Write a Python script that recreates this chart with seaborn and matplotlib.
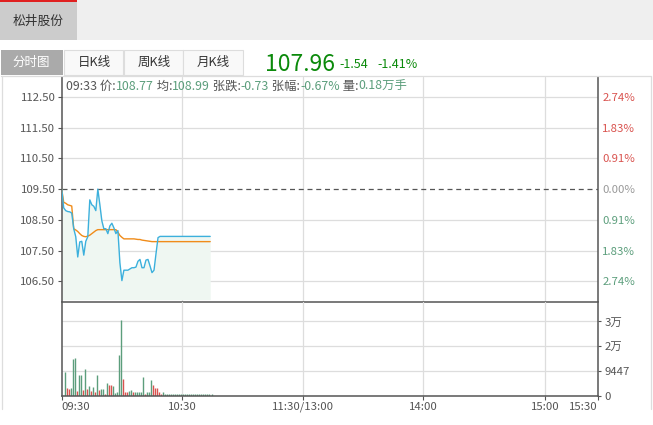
import matplotlib
matplotlib.use("Agg")
import matplotlib.pyplot as plt
import numpy as np
import pandas as pd
import seaborn as sns
from matplotlib.lines import Line2D
from matplotlib.patches import Rectangle

W, H = 653, 425

STOCK_NAME = "松井股份"
TABS = ["分时图", "日K线", "周K线", "月K线"]
PRE_CLOSE = 109.50
LAST_PRICE = "107.96"
CHANGE = "-1.54"
CHANGE_PCT = "-1.41%"

# one point per minute from 09:30
price = [109.50, 108.89, 108.80, 108.77, 108.76, 108.72, 108.21, 107.95, 107.29, 107.78,
         107.80, 107.35, 107.80, 107.95, 109.15, 108.99, 108.94, 108.80, 109.50, 109.00,
         108.47, 108.21, 108.21, 108.05, 108.30, 108.39, 108.24, 108.05, 108.15, 107.10,
         106.52, 106.86, 106.86, 106.86, 106.90, 106.94, 106.94, 106.96, 107.15, 107.21,
         106.94, 106.94, 107.19, 107.21, 107.00, 106.78, 106.86, 107.40, 107.92, 107.96,
         107.96, 107.96, 107.96, 107.96, 107.96, 107.96, 107.96, 107.96, 107.96, 107.96,
         107.96, 107.96, 107.96, 107.96, 107.96, 107.96, 107.96, 107.96, 107.96, 107.96,
         107.96, 107.96, 107.96, 107.96, 107.96]
avg_price = [109.50, 109.07, 109.04, 108.99, 108.97, 108.95, 108.21, 108.17, 108.12, 108.05,
             107.99, 107.96, 107.95, 107.97, 108.00, 108.05, 108.10, 108.15, 108.18, 108.18,
             108.18, 108.18, 108.18, 108.18, 108.18, 108.18, 108.18, 108.18, 108.10, 107.99,
             107.93, 107.88, 107.88, 107.88, 107.88, 107.88, 107.88, 107.87, 107.86, 107.86,
             107.84, 107.83, 107.82, 107.81, 107.80, 107.79, 107.79, 107.79, 107.79, 107.79,
             107.79, 107.79, 107.79, 107.79, 107.79, 107.79, 107.79, 107.79, 107.79, 107.79,
             107.79, 107.79, 107.79, 107.79, 107.79, 107.79, 107.79, 107.79, 107.79, 107.79,
             107.79, 107.79, 107.79, 107.79, 107.79]
volume = [8900, 2680, 2400, 2950, 14000, 14400, 1900, 7650, 8000, 2200,
          10200, 2300, 3700, 1900, 3300, 1500, 7650, 2200, 2300, 2300,
          400, 4600, 4200, 3950, 3800, 900, 1150, 15300, 28700, 6500,
          1500, 1400, 1650, 2200, 1500, 1250, 1400, 1500, 1500, 7250,
          500, 1500, 1250, 6100, 4200, 2950, 2680, 1150, 550, 1150,
          550, 550, 550, 550, 550, 550, 550, 550, 550, 550,
          550, 550, 550, 550, 550, 550, 550, 550, 550, 550,
          550, 550, 550, 550]
vol_up = [0, 1, 1, 0, 0, 0, 1, 0, 0, 1,
          0, 1, 0, 1, 0, 1, 0, 1, 0, 0,
          1, 0, 1, 1, 0, 0, 0, 0, 0, 1,
          1, 1, 0, 0, 1, 0, 0, 0, 0, 0,
          1, 0, 0, 0, 1, 1, 1, 1, 1, 0,
          0, 0, 0, 0, 0, 0, 0, 0, 0, 0,
          0, 0, 0, 0, 0, 0, 0, 0, 0, 0,
          0, 0, 0, 0]

PRICE_TICKS = [112.50, 111.50, 110.50, 109.50, 108.50, 107.50, 106.50]
PCT_LABELS = ["2.74%", "1.83%", "0.91%", "0.00%", "0.91%", "1.83%", "2.74%"]
VOL_TICKS = [0, 9447, 18894, 28341]
VOL_LABELS = ["0", "9447", "2万", "3万"]
TIME_TICKS = [0, 60, 120, 180, 241, 267]
TIME_LABELS = ["09:30", "10:30", "11:30/13:00", "14:00", "15:00", "15:30"]

HEADER = [("09:33 价:", "dark"), ("108.77", "val"), (" 均:", "dark"), ("108.99", "val"),
          (" 张跌:", "dark"), ("-0.73", "val"), (" 张幅:", "dark"), ("-0.67%", "val"),
          (" 量:", "dark"), ("0.18万手", "val")]

BLUE = "#3cb0dc"
ORANGE = "#f08c1a"
FILL = "#eff7f2"
UP = "#d9534f"
DOWN = "#5c9e7c"
DARK = "#555555"
GRID = "#dddddd"
BIG_GREEN = "#0b8a0b"


def fig_rect(x, y, w, h):
    return [x / W, 1 - (y + h) / H, w / W, h / H]


def main():
    sns.set_theme(style="white")
    plt.rcParams["font.family"] = ["Noto Sans CJK SC", "DejaVu Sans"]

    fig = plt.figure(figsize=(W / 100, H / 100), dpi=100)
    fig.patch.set_facecolor("white")

    def box(x, y, w, h, **kw):
        fig.add_artist(Rectangle((x / W, 1 - (y + h) / H), w / W, h / H,
                                 transform=fig.transFigure, **kw))

    # top bar with the stock tab
    box(0, 0, 653, 40, facecolor="#efefef", edgecolor="none")
    box(0, 0, 77, 40, facecolor="#cccccc", edgecolor="none")
    box(0, 0, 77, 1.6, facecolor="#e02020", edgecolor="none")
    fig.text(38 / W, 1 - 21 / H, STOCK_NAME, fontsize=9.2, color="#333333",
             ha="center", va="center")

    # period tabs
    tab_x = [1, 63.5, 123.5, 183]
    for i, (label, x0) in enumerate(zip(TABS, tab_x)):
        if i == 0:
            box(x0, 50, 62, 25, facecolor="#aaaaaa", edgecolor="none")
            color = "white"
        else:
            box(x0, 50, 59.5, 25, facecolor="#f9f9f9", edgecolor="#dddddd", linewidth=0.8)
            color = "#333333"
        fig.text((x0 + 30.5) / W, 1 - 62.5 / H, label, fontsize=9, color=color,
                 ha="center", va="center")

    fig.text(265 / W, 1 - 71 / H, LAST_PRICE, fontsize=16.5, color=BIG_GREEN,
             ha="left", va="baseline")
    fig.text(339 / W, 1 - 67.5 / H, CHANGE, fontsize=9, color=BIG_GREEN,
             ha="left", va="baseline")
    fig.text(377 / W, 1 - 67.5 / H, CHANGE_PCT, fontsize=9, color=BIG_GREEN,
             ha="left", va="baseline")

    # chart container border
    for xs, ys in [([1, 651], [75.5, 75.5]), ([1.5, 1.5], [75.5, 409]), ([651, 651], [75.5, 409])]:
        fig.add_artist(Line2D([x / W for x in xs], [1 - y / H for y in ys],
                              transform=fig.transFigure, color="#dddddd", lw=0.9))

    minutes = np.arange(len(price))
    df = pd.DataFrame({"minute": minutes, "price": price, "avg": avg_price})

    ax = fig.add_axes(fig_rect(61.7, 77, 535.8, 224.5))
    axv = fig.add_axes(fig_rect(61.7, 301.5, 535.8, 94), sharex=ax)

    ymin, ymax = 105.84, 113.152
    for a in (ax, axv):
        a.set_facecolor("none")
        for t in TIME_TICKS[1:-1]:
            a.axvline(t, color=GRID, lw=0.9, zorder=0)
    for p in PRICE_TICKS:
        if p != PRE_CLOSE:
            ax.axhline(p, color=GRID, lw=0.9, zorder=0)
    ax.axhline(PRE_CLOSE, color=DARK, lw=0.9, ls=(0, (4, 3)), zorder=1)
    for v in VOL_TICKS[1:]:
        axv.axhline(v, color=GRID, lw=0.9, zorder=0)

    ax.fill_between(df["minute"], df["price"], 105.9, color=FILL, lw=0, zorder=1)
    sns.lineplot(data=df, x="minute", y="avg", color=ORANGE, lw=1.0, ax=ax, zorder=3)
    sns.lineplot(data=df, x="minute", y="price", color=BLUE, lw=1.0, ax=ax, zorder=4)

    ax.set_xlim(0, TIME_TICKS[-1])
    ax.set_ylim(ymin, ymax)
    ax.set_yticks(PRICE_TICKS)
    ax.set_yticklabels([f"{p:.2f}" for p in PRICE_TICKS])
    ax.tick_params(axis="y", left=True, length=3, width=0.8, color=DARK, pad=1.5,
                   labelsize=8.2, labelcolor=DARK)
    ax.tick_params(axis="x", bottom=False, labelbottom=False)
    ax.set_xlabel("")
    ax.set_ylabel("")
    ax.spines["top"].set_visible(False)
    for side in ("left", "right", "bottom"):
        ax.spines[side].set_color(DARK)
        ax.spines[side].set_linewidth(1.1)

    ax2 = ax.twinx()
    ax2.set_ylim(ymin, ymax)
    ax2.set_yticks(PRICE_TICKS)
    ax2.set_yticklabels(PCT_LABELS)
    ax2.tick_params(axis="y", length=0, pad=3.5, labelsize=8.2)
    for lbl, p in zip(ax2.get_yticklabels(), PRICE_TICKS):
        lbl.set_color(UP if p > PRE_CLOSE else (DOWN if p < PRE_CLOSE else "#999999"))
    for s in ax2.spines.values():
        s.set_visible(False)

    # header row inside the chart
    prev = None
    for text, kind in HEADER:
        color = DARK if kind == "dark" else DOWN
        if prev is None:
            prev = ax.annotate(text, xy=(66 / W, 1 - 93 / H), xycoords="figure fraction",
                               fontsize=8.9, color=color, ha="left", va="bottom",
                               annotation_clip=False)
        else:
            prev = ax.annotate(text, xy=(1, 0), xycoords=prev, fontsize=8.9, color=color,
                               ha="left", va="bottom", annotation_clip=False)

    # volume bars
    vol_minutes = np.arange(1, len(volume) + 1)
    colors = [UP if u else DOWN for u in vol_up]
    axv.vlines(vol_minutes + 0.65, 0, volume, colors=colors, lw=1.0, zorder=2)
    axv.set_ylim(0, 35950)
    axv.yaxis.tick_right()
    axv.set_yticks(VOL_TICKS)
    axv.set_yticklabels(VOL_LABELS)
    axv.tick_params(axis="y", right=True, length=2, width=0.8, color=DARK, pad=3,
                    labelsize=8.2, labelcolor=DARK)
    axv.set_xticks(TIME_TICKS)
    axv.set_xticklabels(TIME_LABELS)
    axv.tick_params(axis="x", bottom=True, length=3, width=0.8, color=DARK, pad=1.5,
                    labelsize=8.2, labelcolor=DARK)
    labels = axv.get_xticklabels()
    labels[0].set_ha("left")
    labels[-1].set_ha("right")
    axv.spines["top"].set_visible(False)
    for side in ("left", "right", "bottom"):
        axv.spines[side].set_color(DARK)
        axv.spines[side].set_linewidth(1.1)

    fig.savefig("out.png", dpi=100)
    plt.close(fig)


if __name__ == "__main__":
    main()
